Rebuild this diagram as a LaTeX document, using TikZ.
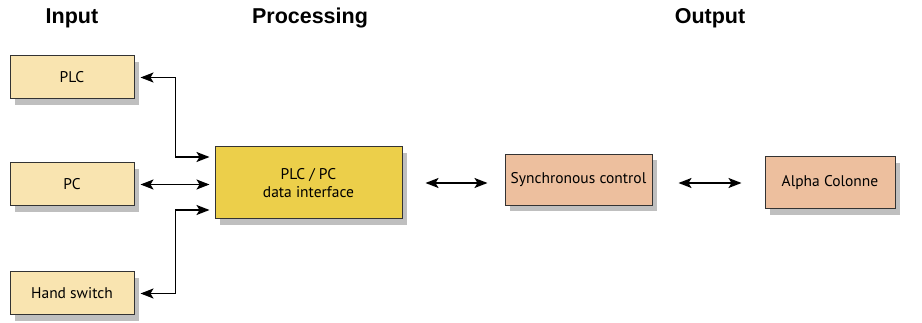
\documentclass[tikz,border=0pt]{standalone}
\usepackage{fontspec}
\setmainfont{Liberation Sans}
\newfontfamily\boxfont{PT Sans}
\usetikzlibrary{positioning}
\usetikzlibrary{arrows.meta}
\usetikzlibrary{shadows}

\definecolor{inputfill}{HTML}{F9E4B0}
\definecolor{procfill}{HTML}{ECCF4A}
\definecolor{outfill}{HTML}{EDBF9E}

\tikzset{
  block/.style={draw=black!80, line width=1pt, inner sep=0pt, align=center,
    font=\boxfont\fontsize{15.5}{17.5}\selectfont,
    drop shadow={shadow xshift=5pt, shadow yshift=-6pt, fill=black!50, opacity=.5}},
  inbox/.style={block, fill=inputfill, minimum width=124pt, minimum height=43pt},
  head/.style={font=\bfseries\fontsize{21.5}{24}\selectfont},
  arr/.style={{Stealth[length=13pt,width=10pt,inset=3pt]}-{Stealth[length=13pt,width=10pt,inset=3pt]}, line width=1.5pt},
}

\begin{document}
\begin{tikzpicture}[x=1pt, y=-1pt]
        \useasboundingbox[fill=white] (0,0) rectangle (922,323);

        \node[head] (hin) at (72,18) {Input};
        \node[head] (hproc) at (310,18) {Processing};
        \node[head] (hout) at (710,18) {Output};

        \node[inbox] (plc) at (72,77.5) {PLC};
        \node[inbox] (pc) at (72,184.5) {PC};
        \node[inbox] (hand) at (72,293.5) {Hand switch};

        \node[block, fill=procfill, minimum width=187pt, minimum height=72pt] (iface) at (308.5,183) {PLC / PC\\data interface};
        \node[block, fill=outfill, minimum width=147pt, minimum height=51pt, right=102pt of iface, yshift=3pt] (sync) {Synchronous control};
        \node[block, fill=outfill, minimum width=130pt, minimum height=52pt, right=112pt of sync, yshift=-3pt] (alpha) {Alpha Colonne};

        \coordinate[above left=26pt and 39pt of iface.west] (bendup);
        \coordinate[below left=27pt and 39pt of iface.west] (benddown);

        \draw[arr, shorten <=6pt] (plc.east) -| (bendup) -- ([yshift=26pt, xshift=-5pt]iface.west);
        \draw[arr, shorten <=6pt, shorten >=5pt] (pc.east) -- (pc.east -| iface.west);
        \draw[arr, shorten <=23pt, shorten >=17pt] (iface.east) -- (iface.east -| sync.west);
        \draw[arr, shorten <=6pt] (hand.east) -| (benddown) -- ([yshift=-27pt, xshift=-5pt]iface.west);
        \draw[arr, shorten <=26pt, shorten >=23pt] (alpha.west -| sync.east) -- (alpha.west);
      \end{tikzpicture}
\end{document}
